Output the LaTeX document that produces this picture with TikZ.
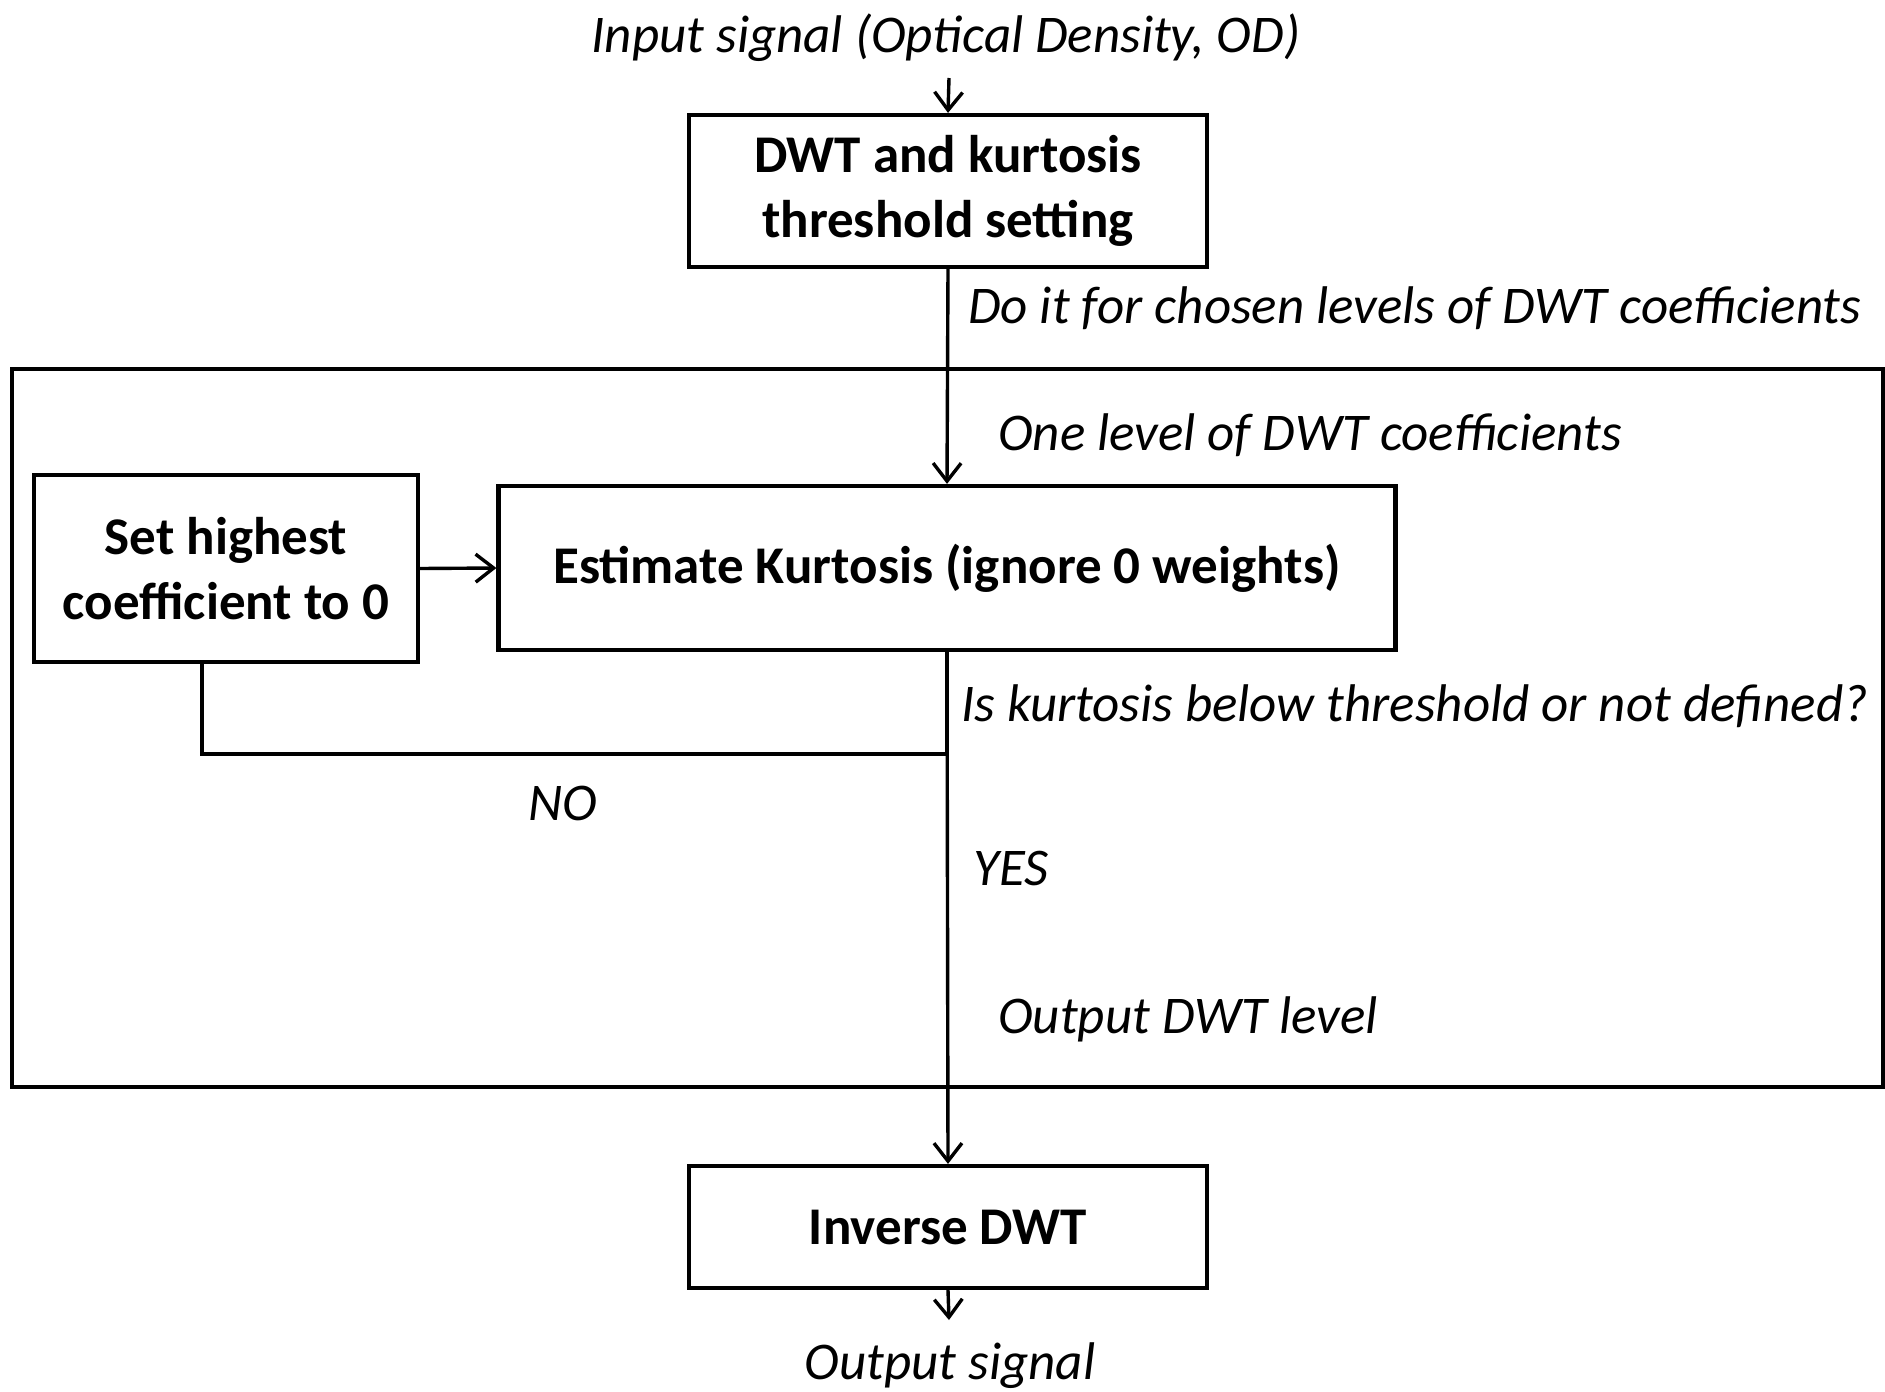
\documentclass[tikz,border=0pt]{standalone}
\usepackage{fontspec}
\setmainfont{Carlito}
\usetikzlibrary{arrows.meta}
\begin{document}
\begin{tikzpicture}[x=1pt,y=-1pt,
  box/.style={draw,line width=4.2pt,align=center,inner sep=0pt,font=\fontsize{53}{65}\selectfont\bfseries},
  lbl/.style={font=\fontsize{53}{60}\selectfont\itshape,inner sep=0pt},
  conn/.style={line width=3.4pt},
  arr/.style={conn,-{Straight Barb[length=18pt,width=28pt,line width=3.4pt]}}]
\useasboundingbox (0,0) rectangle (1885,1392);
\node[draw,line width=4.2pt,minimum width=1871pt,minimum height=718pt,inner sep=0pt] (cont) at (947.5,728) {};
\node[lbl] (in) at (946,38) {Input signal (Optical Density, OD)};
\node[box,minimum width=518pt,minimum height=152pt] (b1) at (948,191) {DWT and kurtosis\\threshold setting};
\node[box,minimum width=897pt,minimum height=164pt] (est) at (947,568) {Estimate Kurtosis (ignore 0 weights)};
\node[box,minimum width=384pt,minimum height=187pt] (lb) at (226,568.5) {Set highest\\coefficient to 0};
\node[box,minimum width=518pt,minimum height=122pt] (inv) at (948,1227) {Inverse DWT};
\node[lbl] (out) at (950,1366) {Output signal};
\node[lbl,anchor=west] (l1) at (968,308) {Do it for chosen levels of DWT coefficients};
\node[lbl,anchor=west] (l2) at (998,435) {One level of DWT coefficients};
\node[lbl,anchor=west] (l3) at (961,706) {Is kurtosis below threshold or not defined?};
\node[lbl] (l4) at (563,803) {NO};
\node[lbl] (l5) at (1011,868) {YES};
\node[lbl,anchor=west] (l6) at (998,1019) {Output DWT level};
\coordinate (j) at (947,754);
\coordinate (lbb) at ([xshift=-24pt]lb.south);
\coordinate (inb) at (949,78);
\coordinate (outt) at (949,1320);
\draw[arr] (inb) -- (b1.north);
\draw[arr] (b1.south) -- (est.north);
\draw[arr] (lb.east) -- (est.west);
\draw[arr] (est.south) -- (inv.north);
\draw[conn] (est.south) -- (j) -| (lbb);
\draw[arr] (inv.south) -- (outt);
\end{tikzpicture}
\end{document}
